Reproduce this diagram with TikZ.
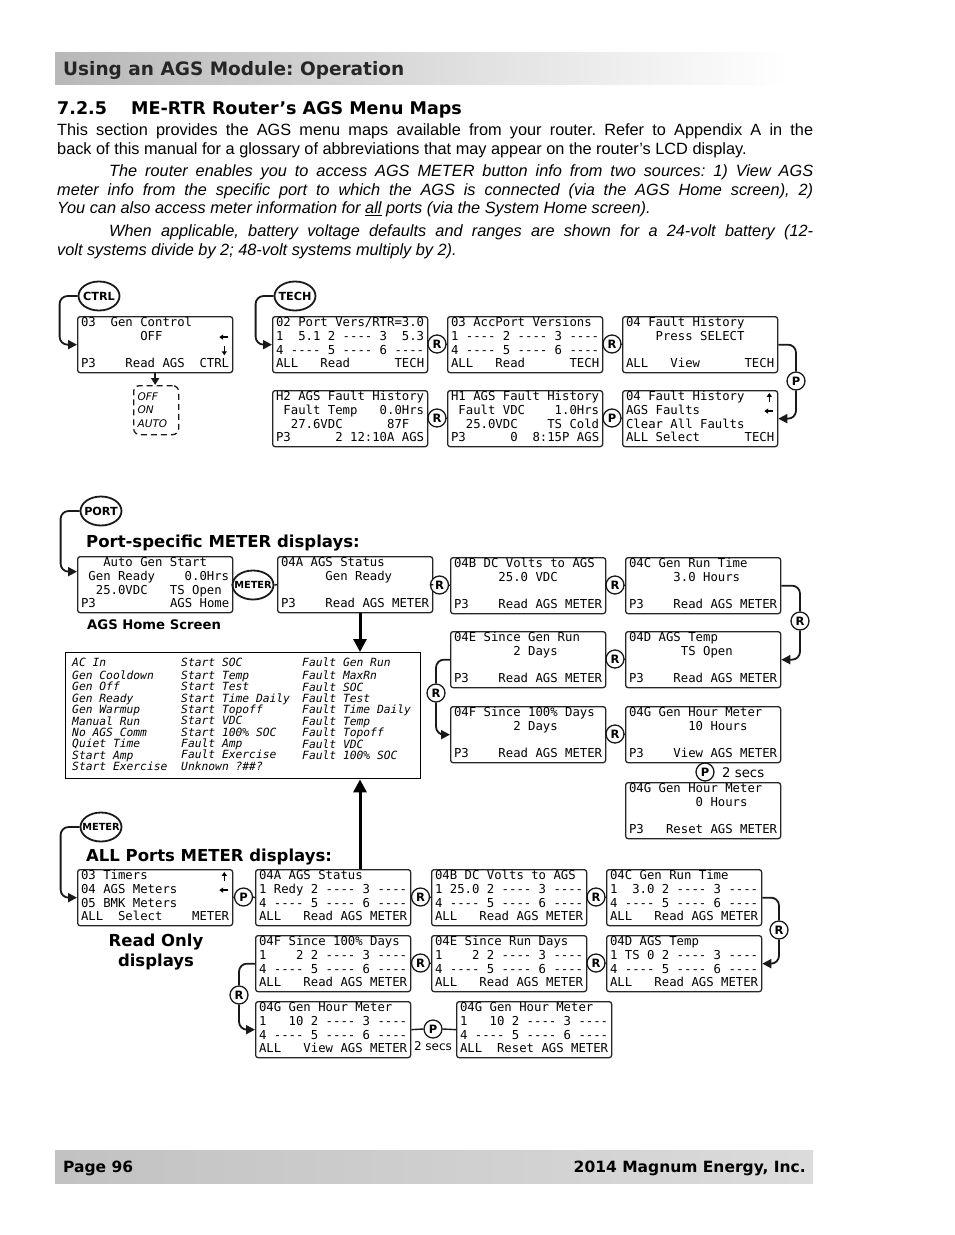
\documentclass[tikz,border=0pt]{standalone}
\usepackage{fontspec}
\setmainfont{DejaVu Sans}
\setmonofont{DejaVu Sans Mono}
\newfontfamily\bodyfont{Liberation Sans}
\usetikzlibrary{arrows.meta,shapes.geometric,calc}
\frenchspacing
\newcommand\monosp{\fontdimen2\font=0.6021em\fontdimen3\font=0pt\fontdimen4\font=0pt\fontdimen7\font=0pt\spaceskip=0.6021em\relax\xspaceskip=0.6021em\relax\def~{\hbox to 0.6021em{}}}
\newcommand\lcdbox[6]{\node[lcd] (#1) at (#2) {\strut#3\\\strut#4\\\strut#5\\\strut#6};}
\newcommand\ellt[1]{\makebox[0pt]{#1}}
% small arrows inside displays: box name, row
\newcommand\arL[2]{\draw[marr] ($(#1.north east)+(-5,7.5+13.6*#2-13.6)$) -- ++(-9,0);}
\newcommand\arU[2]{\draw[marr] ($(#1.north east)+(-9,12+13.6*#2-13.6)$) -- ++(0,-9);}
\newcommand\arD[2]{\draw[marr] ($(#1.north east)+(-9,3+13.6*#2-13.6)$) -- ++(0,9);}
\tikzset{
  lcd/.style={draw=black!85, line width=1.3pt, rounded corners=2.5pt, anchor=north west, inner xsep=3.4pt, inner ysep=0pt, text width=148.2pt, minimum height=56pt, align=left, font=\ttfamily\fontsize{12.3}{13.6}\selectfont\monosp},
  rc/.style={circle, draw=black!90, line width=1.3pt, fill=white, minimum size=18pt, inner sep=0pt, font=\bfseries\fontsize{11.5}{11}\selectfont},
  ell/.style={ellipse, draw=black!90, line width=1.8pt, minimum width=41pt, minimum height=29pt, inner sep=0pt, font=\bfseries\fontsize{11.2}{11}\selectfont},
  lnk/.style={draw=black!90, line width=1.4pt},
  marr/.style={draw=black, line width=1.3pt, -{Triangle[length=3.8pt,width=5pt]}},
  arr/.style={draw=black!90, line width=1.8pt, -{Triangle[length=9pt,width=9pt]}, rounded corners=8pt},
  brk/.style={draw=black!90, line width=1.8pt, rounded corners=8pt},
  bigarr/.style={draw=black, line width=3pt, -{Triangle[length=13pt,width=13pt]}},
  lbl/.style={anchor=base west, inner sep=0pt, font=\bfseries\fontsize{16.5}{18}\selectfont},
  body/.style={anchor=base west, inner sep=0pt, font=\bodyfont\fontsize{16.3}{19}\selectfont},
  bodyit/.style={anchor=base west, inner sep=0pt, font=\bodyfont\itshape\fontsize{16.3}{19}\selectfont},
  flist/.style={anchor=north west, inner sep=0pt, align=left, font=\ttfamily\itshape\fontsize{11.3}{11.35}\selectfont\monosp},
}
\begin{document}
\begin{tikzpicture}[x=1pt,y=-1pt]
\useasboundingbox (0,0) rectangle (954,1235);
% header
\shade[left color=black!28,right color=white] (55,52) rectangle (790,84);
\node[anchor=base west,inner sep=0pt,font=\bfseries\fontsize{18.5}{20}\selectfont,text=black!85] (hdr) at (63,75) {Using an AGS Module: Operation};
\node[anchor=base west,inner sep=0pt,font=\bfseries\fontsize{17.5}{20}\selectfont] (secno) at (57,114) {7.2.5};
\node[anchor=base west,inner sep=0pt,font=\bfseries\fontsize{17.5}{20}\selectfont] (sec) at (131,114) {ME-RTR Router’s AGS Menu Maps};
\node[body] (b1) at (57,135.5) {\makebox[756pt][s]{This section provides the AGS menu maps available from your router. Refer to Appendix A in the}};
\node[body] (b2) at (57,154.5) {back of this manual for a glossary of abbreviations that may appear on the router’s LCD display.};
\node[bodyit] (b3) at (109,176.5) {\makebox[704pt][s]{The router enables you to access AGS METER button info from two sources: 1) View AGS}};
\node[bodyit] (b4) at (57,195.5) {\makebox[756pt][s]{meter info from the specific port to which the AGS is connected (via the AGS Home screen), 2)}};
\node[bodyit] (b5) at (57,213.5) {You can also access meter information for \underline{all} ports (via the System Home screen).};
\node[bodyit] (b6) at (109,236.5) {\makebox[704pt][s]{When applicable, battery voltage defaults and ranges are shown for a 24-volt battery (12-}};
\node[bodyit] (b7) at (57,255.5) {volt systems divide by 2; 48-volt systems multiply by 2).};

% ---------- CTRL / TECH section
\node[ell] (ctrl) at (99,296) {\ellt{CTRL}};
\lcdbox{gc}{77,316}{03~~Gen~Control}{~~~~~~~~OFF}{}{P3~~~~Read~AGS~~CTRL}
\arL{gc}{2}
\arD{gc}{3}
\draw[arr] (ctrl.west) -- ++(-18,0) |- (gc.west);
\node[draw=black!90, dashed, dash pattern=on 6pt off 4pt, line width=1.3pt, rounded corners=6pt, anchor=north west, inner xsep=4pt, inner ysep=0pt, text width=37pt, minimum height=49pt, align=left, font=\itshape\fontsize{10.5}{13.5}\selectfont] (sel) at (133,385) {OFF\\ON\\AUTO};
\draw[draw=black!90, line width=1.8pt, -{Triangle[length=7pt,width=8pt]}] (gc.south) -- (gc.south |- sel.north);

\node[ell] (tech) at (295,296) {\ellt{TECH}};
\lcdbox{pv}{272,316}{02~Port~Vers/RTR=3.0}{1~~5.1~2~----~3~~5.3}{4~----~5~----~6~----}{ALL~~~Read~~~~~~TECH}
\draw[arr] (tech.west) -- ++(-18,0) |- (pv.west);
\lcdbox{av}{447,316}{03~AccPort~Versions}{1~----~2~----~3~----}{4~----~5~----~6~----}{ALL~~~Read~~~~~~TECH}
\lcdbox{fh1}{622,316}{04~Fault~History}{~~~~Press~SELECT}{}{ALL~~~View~~~~~~TECH}
\lcdbox{fh2}{622,390}{04~Fault~History}{AGS~Faults}{Clear~All~Faults}{ALL~Select\hfill TECH}
\arU{fh2}{1}
\arL{fh2}{2}
\lcdbox{h1}{447,390}{H1~AGS~Fault~History}{~Fault~VDC~~~~1.0Hrs}{~~25.0VDC~~~~TS~Cold}{P3~~~~~~0~~8:15P~AGS}
\lcdbox{h2}{272,390}{H2~AGS~Fault~History}{~Fault~Temp~~~0.0Hrs}{~~27.6VDC~~~~~~87F}{P3~~~~~~2~12:10A~AGS}
\node[rc] (r1) at (437,344) {R};
\node[rc] (r2) at (612,344) {R};
\node[rc] (r3) at (437,418) {R};
\node[rc] (p1) at (612,418) {P};
\node[rc] (p2) at (796,381) {P};
\draw[lnk] (pv.east) -- (r1.west) (r1.east) -- (av.west);
\draw[lnk] (av.east) -- (r2.west) (r2.east) -- (fh1.west);
\draw[lnk] (h2.east) -- (r3.west) (r3.east) -- (h1.west);
\draw[lnk] (h1.east) -- (p1.west) (p1.east) -- (fh2.west);
\draw[brk] (fh1.east) -| (p2.north);
\draw[arr] (p2.south) |- (fh2.east);

% ---------- Port-specific section
\node[ell] (port) at (101,511) {\ellt{PORT}};
\node[lbl] (lport) at (86,547) {Port-specific METER displays:};
\lcdbox{home}{77,556}{~~~Auto~Gen~Start}{~Gen~Ready~~~~0.0Hrs}{~~25.0VDC~~~TS~Open}{P3\hfill AGS~Home}
\draw[arr] (port.west) -- ++(-19,0) |- ([yshift=13pt]home.west);
\node[lbl,font=\bfseries\fontsize{13.2}{15}\selectfont] (lhome) at (87,629) {AGS Home Screen};
\node[ell,font=\bfseries\fontsize{9.8}{9}\selectfont] (meter1) at (253,585) {\ellt{METER}};
\lcdbox{p4a}{277,556}{04A~AGS~Status}{~~~~~~Gen~Ready}{}{P3~~~~Read~AGS~METER}
\lcdbox{p4b}{450,557}{04B~DC~Volts~to~AGS}{~~~~~~25.0~VDC}{}{P3~~~~Read~AGS~METER}
\lcdbox{p4c}{625,557}{04C~Gen~Run~Time}{~~~~~~3.0~Hours}{}{P3~~~~Read~AGS~METER}
\lcdbox{p4d}{625,631}{04D~AGS~Temp}{~~~~~~~TS~Open}{}{P3~~~~Read~AGS~METER}
\lcdbox{p4e}{450,631}{04E~Since~Gen~Run}{~~~~~~~~2~Days}{}{P3~~~~Read~AGS~METER}
\lcdbox{p4f}{450,706}{04F~Since~100\%~Days}{~~~~~~~~2~Days}{}{P3~~~~Read~AGS~METER}
\lcdbox{p4g}{625,706}{04G~Gen~Hour~Meter}{~~~~~~~~10~Hours}{}{P3~~~~View~AGS~METER}
\lcdbox{p4gr}{625,782}{04G~Gen~Hour~Meter}{~~~~~~~~~0~Hours}{}{P3~~~Reset~AGS~METER}
\draw[lnk] (home.east) -- (meter1.west) (meter1.east) -- (p4a.west);
\node[rc] (pr1) at (439.5,585) {R};
\node[rc] (pr2) at (615,585) {R};
\node[rc] (pr3) at (800,621) {R};
\node[rc] (pr4) at (615,659) {R};
\node[rc] (pr5) at (436,693) {R};
\node[rc] (pr6) at (615,734) {R};
\node[rc] (pp1) at (705,772) {P};
\node[anchor=base west,inner sep=0pt,font=\fontsize{13.3}{15}\selectfont] (sec2) at (722,777) {2 secs};
\draw[lnk] (p4a.east) -- (pr1.west) (pr1.east) -- (p4b.west);
\draw[lnk] (p4b.east) -- (pr2.west) (pr2.east) -- (p4c.west);
\draw[brk] (p4c.east) -| (pr3.north);
\draw[arr] (pr3.south) |- (p4d.east);
\draw[lnk] (p4d.west) -- (pr4.east) (pr4.west) -- (p4e.east);
\draw[brk] (p4e.west) -| (pr5.north);
\draw[arr] (pr5.south) |- (p4f.west);
\draw[lnk] (p4f.east) -- (pr6.west) (pr6.east) -- (p4g.west);
\draw[lnk] (pp1.north) -- (pp1.north |- p4g.south) (pp1.south) -- (pp1.south |- p4gr.north);

% fault list
\node[draw=black, line width=1.4pt, anchor=north west, minimum width=355pt, minimum height=126pt, inner sep=0pt] (faults) at (65,652) {};
\node[flist] (fc1) at (72,658) {\strut AC~In\\Gen~Cooldown\\Gen~Off\\Gen~Ready\\Gen~Warmup\\Manual~Run\\No~AGS~Comm\\Quiet~Time\\Start~Amp\\Start~Exercise};
\node[flist] (fc2) at (181,658) {\strut Start~SOC\\Start~Temp\\Start~Test\\Start~Time~Daily\\Start~Topoff\\Start~VDC\\Start~100\%~SOC\\Fault~Amp\\Fault~Exercise\\Unknown~?\#\#?};
\node[flist] (fc3) at (302,658) {\strut Fault~Gen~Run\\Fault~MaxRn\\Fault~SOC\\Fault~Test\\Fault~Time~Daily\\Fault~Temp\\Fault~Topoff\\Fault~VDC\\Fault~100\%~SOC};
\coordinate (vx) at (360,0);
\draw[bigarr] (p4a.south -| vx) -- (faults.north -| vx);

% ---------- ALL ports section
\node[ell,font=\bfseries\fontsize{9.8}{9}\selectfont] (meter2) at (101,827) {\ellt{METER}};
\node[lbl] (lall) at (86,861) {ALL Ports METER displays:};
\lcdbox{tim}{77,869}{03~Timers}{04~AGS~Meters}{05~BMK~Meters}{ALL~~Select~~~~METER}
\arU{tim}{1}
\arL{tim}{2}
\draw[arr] (meter2.west) -- ++(-19,0) |- (tim.west);
\node[lbl,anchor=base,font=\bfseries\fontsize{16.5}{18}\selectfont] (ro1) at (156,946) {Read Only};
\node[lbl,anchor=base,font=\bfseries\fontsize{16.5}{18}\selectfont] (ro2) at (156,966) {displays};
\lcdbox{a4a}{255,869}{04A~AGS~Status}{1~Redy~2~----~3~----}{4~----~5~----~6~----}{ALL~~~Read~AGS~METER}
\lcdbox{a4b}{431,869}{04B~DC~Volts~to~AGS}{1~25.0~2~----~3~----}{4~----~5~----~6~----}{ALL~~~Read~AGS~METER}
\lcdbox{a4c}{606,869}{04C~Gen~Run~Time}{1~~3.0~2~----~3~----}{4~----~5~----~6~----}{ALL~~~Read~AGS~METER}
\lcdbox{a4d}{606,935}{04D~AGS~Temp}{1~TS~0~2~----~3~----}{4~----~5~----~6~----}{ALL~~~Read~AGS~METER}
\lcdbox{a4e}{431,935}{04E~Since~Run~Days}{1~~~~2~2~----~3~----}{4~----~5~----~6~----}{ALL~~~Read~AGS~METER}
\lcdbox{a4f}{255,935}{04F~Since~100\%~Days}{1~~~~2~2~----~3~----}{4~----~5~----~6~----}{ALL~~~Read~AGS~METER}
\lcdbox{a4g}{255,1001}{04G~Gen~Hour~Meter}{1~~~10~2~----~3~----}{4~----~5~----~6~----}{ALL~~~View~AGS~METER}
\lcdbox{a4gr}{456,1001}{04G~Gen~Hour~Meter}{1~~~10~2~----~3~----}{4~----~5~----~6~----}{ALL~~Reset~AGS~METER}
\node[rc] (ap1) at (243.5,897) {P};
\node[rc] (ar1) at (420.5,897) {R};
\node[rc] (ar2) at (596,897) {R};
\node[rc] (ar3) at (779,930) {R};
\node[rc] (ar4) at (596,963) {R};
\node[rc] (ar5) at (420.5,963) {R};
\node[rc] (ar6) at (239,995) {R};
\node[rc] (ap2) at (433,1029) {P};
\node[anchor=base,inner sep=0pt,font=\fontsize{12}{14}\selectfont] (sec2b) at (433,1050) {2 secs};
\draw[lnk] (tim.east) -- (ap1.west) (ap1.east) -- (a4a.west);
\draw[lnk] (a4a.east) -- (ar1.west) (ar1.east) -- (a4b.west);
\draw[lnk] (a4b.east) -- (ar2.west) (ar2.east) -- (a4c.west);
\draw[brk] (a4c.east) -| (ar3.north);
\draw[arr] (ar3.south) |- (a4d.east);
\draw[lnk] (a4d.west) -- (ar4.east) (ar4.west) -- (a4e.east);
\draw[lnk] (a4e.west) -- (ar5.east) (ar5.west) -- (a4f.east);
\draw[brk] (a4f.west) -| (ar6.north);
\draw[arr] (ar6.south) |- (a4g.west);
\draw[lnk] (a4g.east) -- (ap2.west) (ap2.east) -- (a4gr.west);
\draw[bigarr] (a4a.north -| vx) -- (faults.south -| vx);

% footer
\shade[left color=black!24,right color=black!14] (55,1150) rectangle (813,1183);
\node[anchor=base west,inner sep=0pt,font=\bfseries\fontsize{15.5}{17}\selectfont] (pg) at (63,1172) {Page 96};
\node[anchor=base east,inner sep=0pt,font=\bfseries\fontsize{15.5}{17}\selectfont] (cpy) at (806,1172) {2014 Magnum Energy, Inc.};
\end{tikzpicture}
\end{document}
